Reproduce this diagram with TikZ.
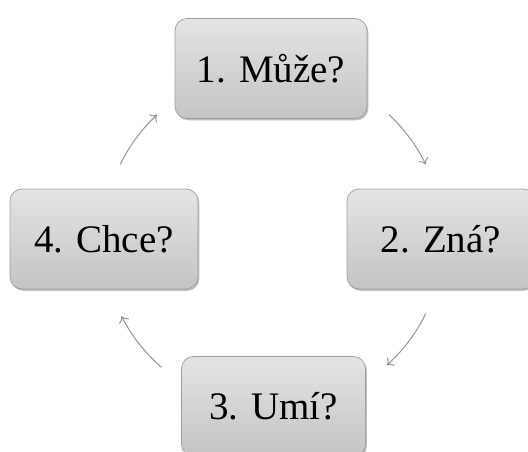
\documentclass[tikz,border=0pt]{standalone}
\usepackage{fontspec}
\setmainfont{Liberation Serif}
\usetikzlibrary{shadows,calc,arrows.meta}
\begin{document}
\begin{tikzpicture}[x=1pt,y=1pt,
  box/.style={rounded corners=12pt, draw={rgb,255:red,160;green,160;blue,160}, line width=0.7pt,
    top color={rgb,255:red,228;green,228;blue,228}, bottom color={rgb,255:red,196;green,196;blue,196},
    drop shadow={shadow xshift=1.4pt, shadow yshift=-1.8pt, opacity=0.5, fill=gray},
    minimum height=100pt, inner sep=0pt, font=\fontsize{39}{44}\selectfont, text=black},
  arr/.style={draw={rgb,255:red,150;green,150;blue,150}, line width=1pt, -{To[length=6pt,width=11pt]}}]
\useasboundingbox (0,0) rectangle (528,451);
\fill[white] (0,0) rectangle (528,451);
\coordinate (c) at (273,212);
\node[box, minimum width=192pt] (b1) at (271,382.5) {1. Může?};
\node[box, minimum width=188pt] (b2) at (441,212) {2. Zná?};
\node[box, minimum width=184pt] (b3) at (273.5,44.5) {3. Umí?};
\node[box, minimum width=188pt] (b4) at (104,212) {4. Chce?};
\coordinate (a1) at ($(c)+(47:170)$);
\coordinate (a2) at ($(c)+(-26:170)$);
\coordinate (a3) at ($(c)+(-131:170)$);
\coordinate (a4) at ($(c)+(154:170)$);
\draw[arr] (a1) arc[start angle=47, end angle=26, radius=170];
\draw[arr] (a2) arc[start angle=-26, end angle=-48, radius=170];
\draw[arr] (a3) arc[start angle=-131, end angle=-153, radius=170];
\draw[arr] (a4) arc[start angle=154, end angle=133, radius=170];
\end{tikzpicture}
\end{document}
